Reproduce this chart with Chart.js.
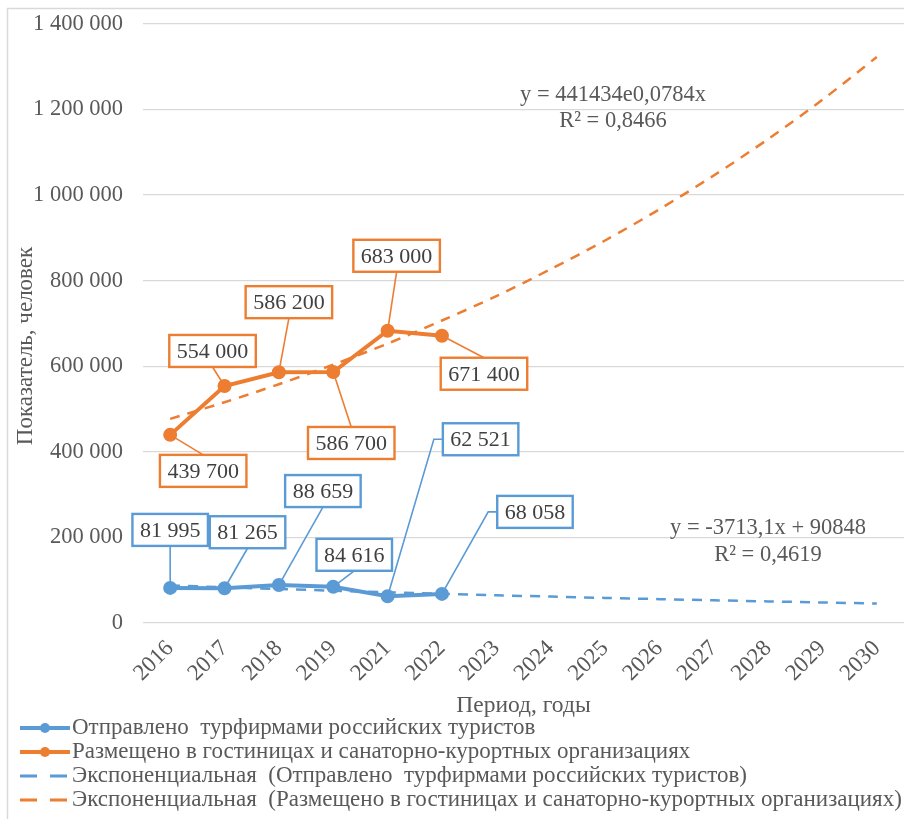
<!DOCTYPE html>
<html lang="ru">
<head>
  <meta charset="UTF-8" />
  <title>Турпоток: отправлено и размещено</title>
  <script src="https://cdn.jsdelivr.net/npm/chart.js"></script>
  <style>
    html, body { margin: 0; padding: 0; background: #fff; }
    .chart-box { width: 904px; height: 819px; position: relative; }
  </style>
</head>
<body>
  <div class="chart-box"><canvas id="tourChart"></canvas></div>

  <script>
    const years = ['2016', '2017', '2018', '2019', '2021', '2022', '2023', '2024', '2025', '2026', '2027', '2028', '2029', '2030'];
    const sentByAgencies = [81995, 81265, 88659, 84616, 62521, 68058];
    const placedInHotels = [439700, 554000, 586200, 586700, 683000, 671400];
    // trend lines at each year
    const sentTrend = [87800, 83500, 79400, 75500, 71800, 68300, 64900, 61700, 58700, 55800, 53100, 50500, 48000, 45600];
    const placedTrend = [477000, 516000, 558000, 604000, 653000, 707000, 764000, 827000, 894000, 967000, 1046000, 1131000, 1223000, 1323000];
    const yTicks = [0, 200000, 400000, 600000, 800000, 1000000, 1200000, 1400000];

    const seriesNames = [
      'Отправлено  турфирмами российских туристов',
      'Размещено в гостиницах и санаторно-курортных организациях',
      'Экспоненциальная  (Отправлено  турфирмами российских туристов)',
      'Экспоненциальная  (Размещено в гостиницах и санаторно-курортных организациях)'
    ];
    const trendNotes = [
      ['y = -3713,1x + 90848', 'R² = 0,4619'],
      ['y = 441434e0,0784x', 'R² = 0,8466']
    ];

    const BLUE = '#5B9BD5';
    const ORANGE = '#ED7D31';
    const GREY = '#595959';
    const SERIF = '"Liberation Serif", "Times New Roman", serif';

    function fmt(v) {
      return String(v).replace(/\B(?=(\d{3})+(?!\d))/g, ' ');
    }

    // label box offset from its point: dx, dy, side where the leader enters
    const labelSpots = [
      [[0, -58, 'b'], [23, -56, 'b'], [44, -94, 'b'], [21, -32, 'b'], [93, -157, 'l'], [93, -82, 'l']],
      [[33, 36, 't'], [-12, -35, 'b'], [10, -70, 'b'], [18, 71, 't'], [9, -75, 'b'], [42, 38, 't']]
    ];

    const calloutPlugin = {
      id: 'callouts',
      afterDatasetsDraw(chart) {
        const ctx = chart.ctx;
        ctx.save();
        ctx.font = '22px ' + SERIF;
        ctx.textAlign = 'center';
        ctx.textBaseline = 'middle';
        [0, 1].forEach(di => {
          const ds = chart.data.datasets[di];
          const pts = chart.getDatasetMeta(di).data;
          ds.data.forEach((v, i) => {
            const p = pts[i];
            const [dx, dy, side] = labelSpots[di][i];
            const txt = fmt(v);
            const w = ctx.measureText(txt).width + 15;
            const h = 32;
            const cx = p.x + dx, cy = p.y + dy;
            ctx.strokeStyle = ds.borderColor;
            ctx.lineWidth = 1.6;
            ctx.beginPath();
            ctx.moveTo(p.x, p.y);
            if (side === 'b') ctx.lineTo(cx, cy + h / 2);
            else if (side === 't') ctx.lineTo(cx, cy - h / 2);
            else {
              ctx.lineTo(cx - w / 2 - 9, cy);
              ctx.lineTo(cx - w / 2, cy);
            }
            ctx.stroke();
            ctx.fillStyle = '#fff';
            ctx.fillRect(cx - w / 2, cy - h / 2, w, h);
            ctx.lineWidth = 2.4;
            ctx.strokeRect(cx - w / 2, cy - h / 2, w, h);
            ctx.fillStyle = '#404040';
            ctx.fillText(txt, cx, cy + 1);
          });
        });
        ctx.restore();
      },
      afterDraw(chart) {
        const ctx = chart.ctx;
        ctx.save();
        // chart frame
        ctx.strokeStyle = '#d9d9d9';
        ctx.lineWidth = 1.5;
        ctx.strokeRect(7.5, 8.5, 1000, 1000);

        ctx.fillStyle = GREY;
        ctx.font = '22.5px ' + SERIF;
        ctx.textAlign = 'center';
        ctx.textBaseline = 'middle';
        // trend equations
        ctx.fillText(trendNotes[1][0], 613, 95);
        ctx.fillText(trendNotes[1][1], 613, 121);
        ctx.fillText(trendNotes[0][0], 768, 528);
        ctx.fillText(trendNotes[0][1], 768, 555);

        // y axis title
        ctx.font = '23px ' + SERIF;
        ctx.save();
        ctx.translate(26, 346);
        ctx.rotate(-Math.PI / 2);
        ctx.fillText('Показатель, человек', 0, 0);
        ctx.restore();

        // legend, one entry per row
        ctx.textAlign = 'left';
        chart.data.datasets.forEach((ds, i) => {
          const y = 728 + i * 24;
          ctx.strokeStyle = ds.borderColor;
          ctx.beginPath();
          if (ds.borderDash && ds.borderDash.length) {
            ctx.lineWidth = 3;
            ctx.setLineDash([17, 13]);
          } else {
            ctx.lineWidth = 4;
            ctx.setLineDash([]);
          }
          ctx.moveTo(20, y);
          ctx.lineTo(70, y);
          ctx.stroke();
          ctx.setLineDash([]);
          if (ds.pointRadius > 0) {
            ctx.fillStyle = ds.borderColor;
            ctx.beginPath();
            ctx.arc(45, y, 5, 0, Math.PI * 2);
            ctx.fill();
          }
          ctx.fillStyle = GREY;
          ctx.fillText(ds.label, 72, y);
        });
        ctx.restore();
      }
    };

    const ctx = document.getElementById('tourChart').getContext('2d');
    new Chart(ctx, {
      type: 'line',
      data: {
        labels: years,
        datasets: [
          {
            label: seriesNames[0],
            data: sentByAgencies,
            borderColor: BLUE,
            backgroundColor: BLUE,
            borderWidth: 4,
            pointRadius: 5,
            order: 1
          },
          {
            label: seriesNames[1],
            data: placedInHotels,
            borderColor: ORANGE,
            backgroundColor: ORANGE,
            borderWidth: 4,
            pointRadius: 5,
            order: 1
          },
          {
            label: seriesNames[2],
            data: sentTrend,
            borderColor: BLUE,
            borderWidth: 2.5,
            borderDash: [10, 8],
            pointRadius: 0,
            tension: 0.3,
            order: 2
          },
          {
            label: seriesNames[3],
            data: placedTrend,
            borderColor: ORANGE,
            borderWidth: 2.5,
            borderDash: [10, 8],
            pointRadius: 0,
            tension: 0.3,
            order: 2
          }
        ]
      },
      options: {
        responsive: true,
        maintainAspectRatio: false,
        animation: false,
        layout: { autoPadding: false, padding: { top: 24, right: 0, bottom: 99, left: 0 } },
        plugins: {
          legend: { display: false },
          tooltip: { enabled: false }
        },
        scales: {
          x: {
            offset: true,
            grid: { display: false },
            border: { display: false },
            ticks: {
              minRotation: 45,
              maxRotation: 45,
              color: GREY,
              padding: 4,
              font: { family: SERIF, size: 23 }
            },
            title: {
              display: true,
              text: 'Период, годы',
              color: GREY,
              padding: { top: 0, bottom: 0 },
              font: { family: SERIF, size: 23.5 }
            },
            afterFit: s => {
              s.height = 97;
              s.paddingLeft = 0;
              s.paddingRight = 0;
            }
          },
          y: {
            min: 0,
            max: 1400000,
            grid: { color: '#d9d9d9', lineWidth: 1.3, drawTicks: false },
            border: { display: false },
            ticks: {
              color: GREY,
              padding: 20,
              font: { family: SERIF, size: 22.5 },
              callback: v => fmt(v)
            },
            afterBuildTicks: s => { s.ticks = yTicks.map(v => ({ value: v })); },
            afterFit: s => {
              s.width = 143;
              s.paddingTop = 0;
              s.paddingBottom = 0;
            }
          }
        }
      },
      plugins: [calloutPlugin]
    });
  </script>
</body>
</html>
